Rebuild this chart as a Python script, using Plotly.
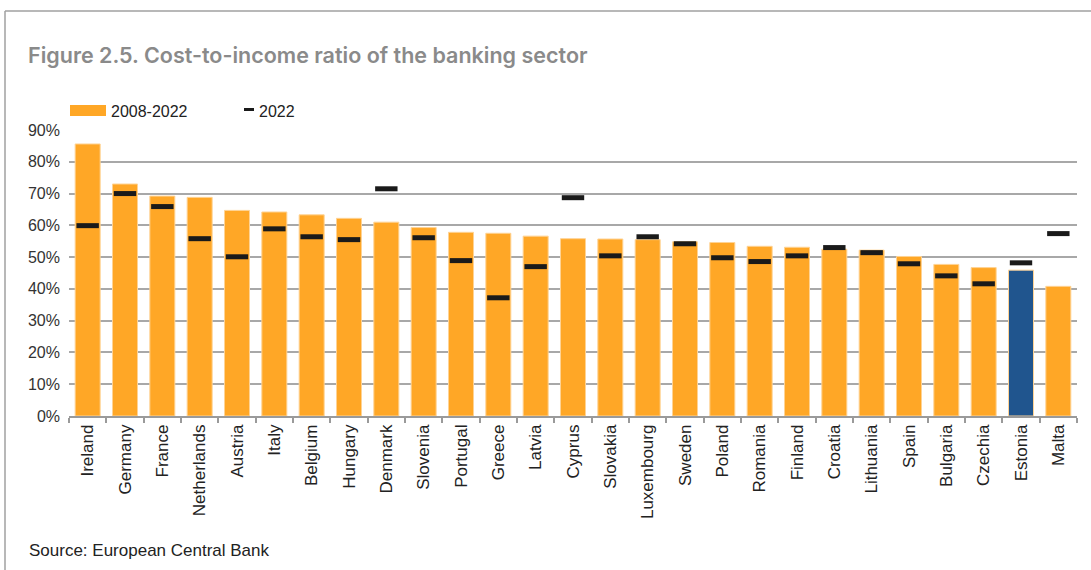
import plotly.graph_objects as go

# Cost-to-income ratio by country (%)
countries = ["Ireland", "Germany", "France", "Netherlands", "Austria", "Italy", "Belgium",
             "Hungary", "Denmark", "Slovenia", "Portugal", "Greece", "Latvia", "Cyprus",
             "Slovakia", "Luxembourg", "Sweden", "Poland", "Romania", "Finland", "Croatia",
             "Lithuania", "Spain", "Bulgaria", "Czechia", "Estonia", "Malta"]
avg_2008_2022 = [85.6, 73.0, 69.2, 68.8, 64.7, 64.2, 63.3, 62.2, 61.0, 59.3, 57.8, 57.5,
                 56.6, 55.8, 55.7, 55.5, 54.8, 54.6, 53.4, 53.1, 52.5, 52.2, 50.2, 47.7,
                 46.7, 45.9, 40.8]
value_2022 = [59.9, 70.0, 65.9, 55.8, 50.1, 58.9, 56.4, 55.5, 71.5, 56.1, 48.9, 37.2,
              47.0, 68.7, 50.4, 56.4, 54.2, 49.8, 48.6, 50.4, 53.0, 51.4, 47.9, 44.1,
              41.6, 48.2, 57.4]
y_ticks = [0, 10, 20, 30, 40, 50, 60, 70, 80, 90]
y_tick_labels = [f"{v}%" for v in y_ticks]
series_names = ["2008-2022", "2022"]

ORANGE = "#FFA726"
BLUE = "#20558E"
DASH = "#1a1a1a"
highlight = "Estonia"
bar_colors = [BLUE if c == highlight else ORANGE for c in countries]

FONT = "Liberation Sans, Arial, sans-serif"
TITLE_FONT = "Inter, Liberation Sans, Arial, sans-serif"

W, H = 1091, 570
L, R, T, B = 69, 14, 130, 154
PW, PH = W - L - R, H - T - B


def px(x):
    return (x - L) / PW


def py(y):
    return (H - B - y) / PH


fig = go.Figure()
fig.add_trace(go.Bar(
    x=countries, y=avg_2008_2022, name=series_names[0],
    marker=dict(color=bar_colors, line=dict(color="#FFD394", width=1)),
    width=0.67, showlegend=False,
))
fig.add_trace(go.Scatter(
    x=countries, y=value_2022, name=series_names[1], mode="markers",
    marker=dict(symbol="line-ew", size=16, line=dict(color=DASH, width=5)),
    showlegend=False,
))

fig.update_layout(
    width=W, height=H,
    margin=dict(l=L, r=R, t=T, b=B),
    paper_bgcolor="white", plot_bgcolor="white",
    font=dict(family=FONT, size=16, color="#222222"),
    bargap=0.33,
    xaxis=dict(
        type="category", tickangle=-90, showgrid=False,
        showline=True, linecolor="#9a9a9a", linewidth=1.5,
        ticks="outside", tickson="boundaries", ticklen=5, tickcolor="#9a9a9a",
        tickwidth=1.5,
        tickfont=dict(family=FONT, size=17, color="#222222"),
        range=[-0.5, len(countries) - 0.5],
    ),
    yaxis=dict(
        range=[0, 90], tickvals=y_ticks, ticktext=y_tick_labels,
        showgrid=True, gridcolor="#a8a8a8", gridwidth=1.5,
        zeroline=False, showline=False, ticks="",
        tickfont=dict(family=FONT, size=16, color="#333333"),
        ticklabelstandoff=8,
    ),
)

# Outer frame (top and left edges)
fig.add_shape(type="line", xref="paper", yref="paper",
              x0=px(5), x1=px(W + 5), y0=py(11), y1=py(11),
              line=dict(color="#a0a0a0", width=1.5))
fig.add_shape(type="line", xref="paper", yref="paper",
              x0=px(5), x1=px(5), y0=py(11), y1=py(H + 5),
              line=dict(color="#a0a0a0", width=1.5))

# Legend: bar swatch and dash swatch with their labels
fig.add_shape(type="rect", xref="paper", yref="paper",
              x0=px(70), x1=px(106), y0=py(116), y1=py(105),
              fillcolor=ORANGE, line=dict(width=0))
fig.add_shape(type="rect", xref="paper", yref="paper",
              x0=px(244), x1=px(254), y0=py(111), y1=py(108),
              fillcolor=DASH, line=dict(width=0))
fig.add_annotation(text=series_names[0], xref="paper", yref="paper",
                   x=px(109), y=py(111.5), xanchor="left", yanchor="middle",
                   showarrow=False, font=dict(family=FONT, size=16, color="#222222"))
fig.add_annotation(text=series_names[1], xref="paper", yref="paper",
                   x=px(257), y=py(111.5), xanchor="left", yanchor="middle",
                   showarrow=False, font=dict(family=FONT, size=16, color="#222222"))

fig.add_annotation(
    text="Figure 2.5. Cost-to-income ratio of the banking sector",
    xref="paper", yref="paper", x=px(26), y=py(55),
    xanchor="left", yanchor="middle", showarrow=False,
    font=dict(family=TITLE_FONT, size=21.5, color="#8a8a8a", weight=600),
)
fig.add_annotation(
    text="Source: European Central Bank",
    xref="paper", yref="paper", x=px(27), y=py(550),
    xanchor="left", yanchor="middle", showarrow=False,
    font=dict(family=FONT, size=17, color="#222222"),
)

fig.write_html("out.html")
